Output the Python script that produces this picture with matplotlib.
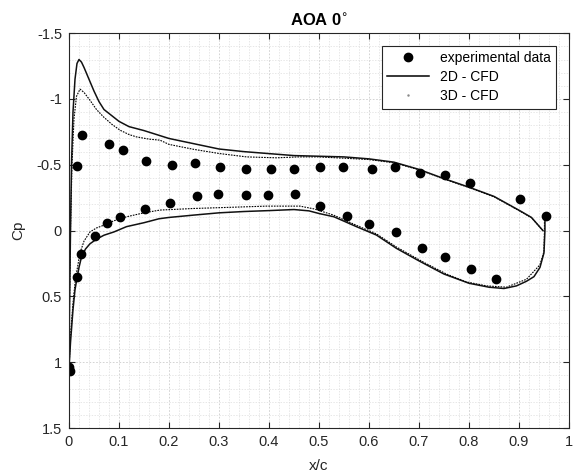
import numpy as np
import matplotlib.pyplot as plt
from matplotlib.lines import Line2D

plt.rcParams['font.family'] = ['Liberation Sans', 'DejaVu Sans']

# experimental data (upper + lower surface taps)
exp_x = [0.017, 0.027, 0.08, 0.109, 0.154, 0.207, 0.252, 0.303, 0.355, 0.404, 0.451,
         0.502, 0.549, 0.606, 0.652, 0.703, 0.752, 0.803, 0.903, 0.955,
         0.0, 0.002, 0.017, 0.025, 0.053, 0.077, 0.102, 0.152, 0.202, 0.257, 0.298,
         0.355, 0.398, 0.453, 0.502, 0.557, 0.601, 0.655, 0.707, 0.752, 0.804, 0.854]
exp_cp = [-0.49, -0.73, -0.66, -0.61, -0.53, -0.50, -0.51, -0.485, -0.465, -0.47, -0.47,
          -0.485, -0.485, -0.47, -0.485, -0.435, -0.42, -0.36, -0.24, -0.11,
          1.04, 1.07, 0.35, 0.18, 0.04, -0.055, -0.10, -0.165, -0.21, -0.265, -0.28,
          -0.27, -0.27, -0.28, -0.19, -0.11, -0.05, 0.01, 0.13, 0.20, 0.29, 0.37]

# 2D CFD
up2d_x = [0.0, 0.001, 0.003, 0.005, 0.008, 0.012, 0.016, 0.02, 0.025, 0.03, 0.04, 0.05,
          0.06, 0.07, 0.08, 0.09, 0.1, 0.12, 0.15, 0.175, 0.2, 0.25, 0.3, 0.35, 0.4,
          0.45, 0.5, 0.55, 0.6, 0.65, 0.7, 0.75, 0.8, 0.85, 0.9, 0.925, 0.948]
up2d_cp = [1.05, 0.6, 0.0, -0.5, -0.9, -1.15, -1.27, -1.30, -1.28, -1.24, -1.15, -1.06,
           -0.98, -0.92, -0.89, -0.86, -0.83, -0.79, -0.76, -0.73, -0.70, -0.66, -0.62,
           -0.60, -0.585, -0.57, -0.565, -0.56, -0.545, -0.52, -0.465, -0.395, -0.33,
           -0.26, -0.155, -0.10, 0.0]
lo2d_x = [0.0, 0.003, 0.008, 0.012, 0.016, 0.02, 0.025, 0.033, 0.042, 0.055, 0.07, 0.09,
          0.115, 0.15, 0.18, 0.2, 0.25, 0.3, 0.35, 0.4, 0.45, 0.48, 0.5, 0.53, 0.575,
          0.615, 0.655, 0.7, 0.75, 0.8, 0.84, 0.87, 0.895, 0.915, 0.93, 0.942, 0.95,
          0.952, 0.952]
lo2d_cp = [1.05, 0.85, 0.6, 0.45, 0.36, 0.28, 0.2, 0.14, 0.1, 0.065, 0.035, 0.01,
           -0.03, -0.06, -0.09, -0.1, -0.118, -0.135, -0.145, -0.152, -0.16, -0.15,
           -0.13, -0.105, -0.03, 0.034, 0.135, 0.23, 0.33, 0.40, 0.43, 0.44, 0.42,
           0.385, 0.35, 0.28, 0.17, 0.0, -0.11]

# 3D CFD
up3d_x = [0.0, 0.001, 0.003, 0.006, 0.01, 0.015, 0.022, 0.03, 0.042, 0.055, 0.069, 0.085,
          0.102, 0.12, 0.135, 0.16, 0.182, 0.2, 0.25, 0.3, 0.355, 0.415, 0.46, 0.5,
          0.55, 0.6, 0.65, 0.7, 0.75, 0.8, 0.85, 0.9, 0.925, 0.948]
up3d_cp = [1.05, 0.6, 0.0, -0.5, -0.85, -1.02, -1.075, -1.05, -0.99, -0.92, -0.864,
           -0.81, -0.763, -0.73, -0.712, -0.695, -0.687, -0.655, -0.617, -0.586, -0.56,
           -0.553, -0.56, -0.56, -0.55, -0.54, -0.515, -0.462, -0.392, -0.327, -0.257,
           -0.152, -0.098, 0.0]
lo3d_x = [0.0, 0.003, 0.008, 0.012, 0.016, 0.022, 0.03, 0.042, 0.055, 0.069, 0.09, 0.115,
          0.15, 0.182, 0.249, 0.315, 0.395, 0.462, 0.49, 0.529, 0.575, 0.615, 0.655,
          0.709, 0.755, 0.795, 0.835, 0.875, 0.915, 0.942, 0.95, 0.951, 0.951]
lo3d_cp = [1.05, 0.8, 0.55, 0.4, 0.3, 0.17, 0.08, 0.01, -0.02, -0.04, -0.075, -0.105,
           -0.135, -0.156, -0.168, -0.176, -0.186, -0.186, -0.165, -0.118, -0.04, 0.025,
           0.125, 0.24, 0.33, 0.39, 0.42, 0.43, 0.37, 0.26, 0.16, 0.0, -0.11]

fig = plt.figure(figsize=(5.74, 4.74), dpi=100)
ax = fig.add_axes([0.1202, 0.097, 0.871, 0.833])

ax.plot(up3d_x, up3d_cp, color='k', ls=(0, (1.5, 1)), lw=0.8)
ax.plot(lo3d_x, lo3d_cp, color='k', ls=(0, (1.5, 1)), lw=0.8)
ax.plot(up2d_x, up2d_cp, color='#111111', lw=1.1)
ax.plot(lo2d_x, lo2d_cp, color='#111111', lw=1.1)
ax.plot(exp_x, exp_cp, 'o', color='k', ms=6, ls='none')

ax.set_xlim(0, 1)
ax.set_ylim(1.5, -1.5)
ax.set_xticks(np.arange(0, 1.01, 0.1))
ax.set_xticklabels(['0', '0.1', '0.2', '0.3', '0.4', '0.5', '0.6', '0.7', '0.8', '0.9', '1'])
ax.set_yticks([-1.5, -1, -0.5, 0, 0.5, 1, 1.5])
ax.set_yticklabels(['-1.5', '-1', '-0.5', '0', '0.5', '1', '1.5'])
ax.set_xticks(np.arange(0, 1.001, 0.02), minor=True)
ax.set_yticks(np.arange(-1.5, 1.501, 0.1), minor=True)
ax.tick_params(which='both', direction='in', top=True, right=True, labelsize=10.5,
               color='#262626', labelcolor='#262626')
ax.tick_params(which='major', length=4, pad=5)
ax.tick_params(which='minor', length=0)
ax.grid(which='major', color='#cccccc', ls=(0, (2, 2)), lw=0.6)
ax.grid(which='minor', color='#dddddd', ls=(0, (2, 2)), lw=0.5)
ax.set_axisbelow(True)
for s in ax.spines.values():
    s.set_color('#262626')
    s.set_linewidth(0.8)

ax.set_xlabel('x/c', fontsize=11, color='#262626', labelpad=7)
ax.set_ylabel('Cp', fontsize=11, color='#262626', labelpad=8)
ax.set_title(r'AOA 0$^{\circ}$', fontsize=12, fontweight='bold', pad=5)

handles = [Line2D([], [], marker='o', color='k', ls='none', ms=6),
           Line2D([], [], color='k', lw=1.1),
           Line2D([], [], marker='.', color='#888888', ls='none', ms=1.5)]
leg = ax.legend(handles, ['experimental data', '2D - CFD', '3D - CFD'],
                loc='upper right', fontsize=10, fancybox=False, framealpha=1,
                edgecolor='#262626', borderaxespad=0.9, handlelength=3.0,
                labelspacing=0.35, borderpad=0.4)
leg.get_frame().set_linewidth(0.8)

fig.savefig('out.png', dpi=100)
